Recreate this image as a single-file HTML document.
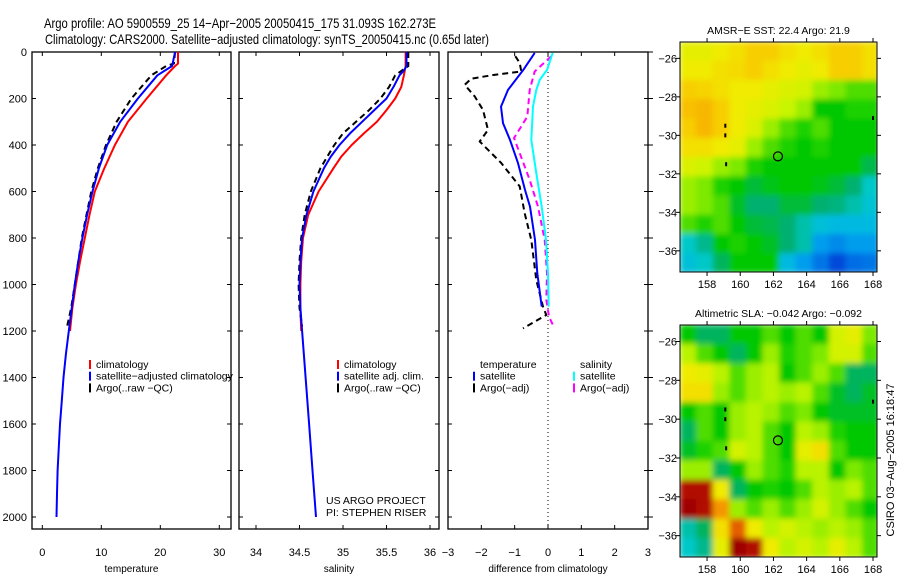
<!DOCTYPE html>
<html><head><meta charset="utf-8"><style>
html,body{margin:0;padding:0;background:#fff;width:900px;height:580px;overflow:hidden}
svg{display:block;font-family:"Liberation Sans",sans-serif}
</style></head><body>
<svg id="fig" width="900" height="580" viewBox="0 0 900 580">
<defs>
<filter id="soft" x="0" y="0" width="1" height="1"><feGaussianBlur stdDeviation="3" edgeMode="duplicate"/></filter>
<clipPath id="clipMap1"><rect x="680" y="42" width="197" height="230"/></clipPath>
<clipPath id="clipMap2"><rect x="680" y="325" width="197" height="232"/></clipPath>
</defs>
<text x="44" y="28" font-size="14" textLength="392" lengthAdjust="spacingAndGlyphs">Argo profile: AO 5900559_25 14−Apr−2005 20050415_175 31.093S 162.273E</text>
<text x="45" y="44" font-size="14" textLength="444" lengthAdjust="spacingAndGlyphs">Climatology: CARS2000. Satellite−adjusted climatology: synTS_20050415.nc (0.65d later)</text>
<g id="plots"></g>
</svg>
<script>
// ---------- data ----------
const tempDepths = [0,50,60,100,200,300,400,500,600,700,800,900,1000,1100,1200];
const tempClim = [23,23,22.5,21,17.7,14.5,12.3,10.5,8.9,8,7.2,6.4,5.7,5.1,4.7];
const satDepths = [0,60,100,200,300,400,500,600,700,800,900,1000,1100,1200,1300,1400,1500,1600,1700,1800,1900,2000];
const tempSat = [22.5,22,19.5,16.2,13.2,11,9.6,8.5,7.6,6.8,6.1,5.5,5,4.5,4,3.6,3.3,3.0,2.8,2.6,2.5,2.4];
const argoDepths = [0,50,60,100,200,300,400,500,600,700,800,900,1000,1100,1180];
const tempArgo = [22.5,22.3,21,18.5,15.1,12.6,10.8,9.4,8.3,7.5,6.7,6.1,5.5,4.9,4.2];

const salClimDepths = [0,60,100,150,200,250,300,350,400,450,500,600,700,800,900,1000,1100,1200];
const salClim = [35.72,35.72,35.70,35.67,35.6,35.5,35.39,35.24,35.10,34.98,34.89,34.72,34.6,34.54,34.52,34.51,34.51,34.52];
const salSatDepths = [0,60,80,100,150,200,250,300,350,400,450,500,600,700,800,900,1000,1100,1200,1400,1600,1800,2000];
const salSat = [35.73,35.73,35.7,35.65,35.58,35.5,35.36,35.22,35.08,34.96,34.86,34.78,34.66,34.58,34.53,34.51,34.5,34.51,34.53,34.57,34.61,34.65,34.69];
const salArgoDepths = [0,60,100,150,200,250,300,350,400,450,500,600,700,800,900,1000,1100,1180];
const salArgo = [35.75,35.75,35.6,35.53,35.43,35.3,35.15,35.0,34.9,34.82,34.74,34.63,34.56,34.52,34.5,34.49,34.5,34.53];

const dTempSatDepths = [4,77,163,235,306,378,478,593,665,808,952,1095];
const dTempSat = [-0.4,-0.74,-1.2,-1.41,-1.35,-1.14,-0.9,-0.69,-0.54,-0.39,-0.32,-0.19];
const dTempArgoDepths = [18,47,84,100,115,141,191,249,335,385,478,578,694,808,981,1095,1131,1189];
const dTempArgo = [-0.98,-0.85,-0.8,-1.7,-2.3,-2.5,-2.2,-1.95,-1.8,-2.05,-1.4,-0.85,-0.7,-0.5,-0.35,-0.15,-0.05,-0.75];
const dSalSatDepths = [4,77,120,163,235,378,521,665,808,952,1095];
const dSalSat = [0.14,-0.03,-0.25,-0.35,-0.45,-0.5,-0.35,-0.19,-0.06,0,0.02];
const dSalArgoDepths = [18,84,163,278,320,370,435,550,665,808,952,1066,1138,1175];
const dSalArgo = [0.1,-0.4,-0.55,-0.62,-0.8,-1.02,-0.85,-0.55,-0.3,-0.1,-0.03,-0.05,0.03,0.15];

const depthTicks = [0,200,400,600,800,1000,1200,1400,1600,1800,2000];
const tempTicks = [0,10,20,30];
const salTicks = [34,34.5,35,35.5,36];
const diffTicks = [-3,-2,-1,0,1,2,3];
const lonTicks = [158,160,162,164,166,168];
const latTicks = [-26,-28,-30,-32,-34,-36];

// map grids: 12 rows (north->south, 1 deg each from -25.15) x 12 cols (1 deg each from 156.37); colour index 0..1
const sstGrid = [
[0.68,0.68,0.70,0.72,0.75,0.75,0.72,0.70,0.72,0.75,0.75,0.72],
[0.70,0.70,0.72,0.73,0.75,0.72,0.70,0.68,0.70,0.75,0.75,0.72],
[0.75,0.74,0.72,0.70,0.70,0.68,0.66,0.65,0.60,0.58,0.55,0.55],
[0.77,0.78,0.75,0.70,0.68,0.66,0.63,0.60,0.50,0.50,0.52,0.52],
[0.75,0.78,0.75,0.70,0.66,0.60,0.55,0.52,0.55,0.50,0.50,0.50],
[0.72,0.72,0.70,0.68,0.60,0.55,0.52,0.50,0.52,0.50,0.50,0.50],
[0.66,0.64,0.60,0.58,0.52,0.50,0.50,0.50,0.50,0.50,0.50,0.46],
[0.60,0.58,0.52,0.50,0.47,0.49,0.50,0.50,0.49,0.47,0.44,0.38],
[0.60,0.58,0.55,0.48,0.44,0.44,0.47,0.47,0.44,0.43,0.40,0.36],
[0.55,0.52,0.55,0.50,0.47,0.46,0.44,0.40,0.35,0.33,0.33,0.33],
[0.38,0.42,0.50,0.52,0.50,0.48,0.44,0.40,0.28,0.26,0.28,0.28],
[0.35,0.38,0.45,0.50,0.50,0.50,0.33,0.28,0.24,0.18,0.23,0.24]];
const slaGrid = [
[0.50,0.45,0.45,0.50,0.50,0.55,0.50,0.55,0.50,0.65,0.68,0.58],
[0.62,0.55,0.50,0.45,0.50,0.60,0.52,0.55,0.58,0.65,0.65,0.55],
[0.70,0.68,0.62,0.55,0.60,0.62,0.50,0.55,0.60,0.55,0.45,0.45],
[0.72,0.72,0.60,0.55,0.60,0.62,0.60,0.62,0.55,0.48,0.45,0.48],
[0.50,0.55,0.50,0.60,0.62,0.60,0.55,0.58,0.50,0.48,0.48,0.48],
[0.45,0.55,0.50,0.60,0.62,0.55,0.50,0.62,0.60,0.52,0.50,0.50],
[0.48,0.52,0.55,0.65,0.62,0.55,0.50,0.68,0.72,0.55,0.50,0.50],
[0.60,0.60,0.45,0.50,0.60,0.55,0.52,0.62,0.62,0.50,0.58,0.55],
[0.92,0.92,0.70,0.45,0.50,0.52,0.50,0.55,0.62,0.60,0.62,0.55],
[0.95,0.92,0.82,0.60,0.55,0.60,0.55,0.60,0.65,0.60,0.55,0.50],
[0.40,0.45,0.72,0.85,0.70,0.62,0.65,0.62,0.60,0.62,0.60,0.55],
[0.38,0.42,0.68,0.95,0.92,0.70,0.62,0.65,0.62,0.68,0.62,0.55]];
const floatLon = 162.273, floatLat = -31.093;
const coastLon = [159.1,159.1,159.15,168.0];
const coastLat = [-29.5,-30.0,-31.5,-29.1];

// ---------- helpers ----------
const NS = 'http://www.w3.org/2000/svg';
const root = document.getElementById('plots');
function mk(tag, attrs, parent){const e=document.createElementNS(NS,tag);for(const k in attrs)e.setAttribute(k,attrs[k]);(parent||root).appendChild(e);return e;}
const Y0=52, Y1=529, depthScale=(517-52)/2000;
const yDepth = d => Y0 + d*depthScale;
const panels = [
 {x0:32,x1:231,fx:v=>42.3+v*5.9,ticks:tempTicks,label:'temperature',name:'temperature'},
 {x0:239,x1:439,fx:v=>256+(v-34)*87,ticks:salTicks,label:'salinity',name:'salinity'},
 {x0:448,x1:648,fx:v=>548+v*33.333,ticks:diffTicks,label:'difference from climatology',name:'difference'}
];
function fmt(v){return v<0?'−'+(-v):String(v);}
panels.forEach((p,i)=>{
  const g=mk('g',{});
  
  
  const r=mk('rect',{x:p.x0,y:Y0,width:p.x1-p.x0,height:Y1-Y0,fill:'none',stroke:'#000','stroke-width':1.3},g);
  
  
  depthTicks.forEach(d=>{
    const y=yDepth(d);
    mk('line',{x1:p.x0,x2:p.x0+4,y1:y,y2:y,stroke:'#000'},g);
    mk('line',{x1:p.x1-4,x2:p.x1,y1:y,y2:y,stroke:'#000'},g);
    if(i===0){const t=mk('text',{x:27,y:y+4,'font-size':11,'text-anchor':'end'},g);t.textContent=d;
      
      }
  });
  if(i===2){depthTicks.forEach(d=>{const y=yDepth(d);mk('line',{x1:p.x1,x2:p.x1+5,y1:y,y2:y,stroke:'#000'},g);});}
  p.ticks.forEach(v=>{
    const x=p.fx(v);
    mk('line',{x1:x,x2:x,y1:Y0,y2:Y0+4,stroke:'#000'},g);
    mk('line',{x1:x,x2:x,y1:Y1-4,y2:Y1,stroke:'#000'},g);
    const t=mk('text',{x:x,y:556,'font-size':11,'text-anchor':'middle'},g);t.textContent=fmt(v);
    
    
  });
  const xl=mk('text',{x:(p.x0+p.x1)/2,y:572,'font-size':10,'text-anchor':'middle'},g);xl.textContent=p.label;
  
  
});
// zero line
const zl=mk('line',{x1:548,x2:548,y1:Y0,y2:Y1,stroke:'#000','stroke-dasharray':'1,3'});



function series(p, depths, vals, color, dash, name){
  const pts=depths.map((d,k)=>p.fx(vals[k]).toFixed(1)+','+yDepth(d).toFixed(1)).join(' ');
  const a={points:pts,fill:'none',stroke:color,'stroke-width':2,'stroke-linejoin':'round'};
  if(dash)a['stroke-dasharray']=dash;
  const e=mk('polyline',a);
  
  
}
series(panels[0],tempDepths,tempClim,'#ff0000',null,'temperature-climatology-line');
series(panels[0],argoDepths,tempArgo,'#000',  '6,4','temperature-argo-line');
series(panels[0],satDepths,tempSat,'#0000ff',null,'temperature-satellite-line');
series(panels[1],salClimDepths,salClim,'#ff0000',null,'salinity-climatology-line');
series(panels[1],salArgoDepths,salArgo,'#000','6,4','salinity-argo-line');
series(panels[1],salSatDepths,salSat,'#0000ff',null,'salinity-satellite-line');
series(panels[2],dTempArgoDepths,dTempArgo,'#000','6,4','diff-temperature-argo-line');
series(panels[2],dSalArgoDepths,dSalArgo,'#ff00ff','6,4','diff-salinity-argo-line');
series(panels[2],dSalSatDepths,dSalSat,'#00ffff',null,'diff-salinity-satellite-line');
series(panels[2],dTempSatDepths,dTempSat,'#0000ff',null,'diff-temperature-satellite-line');

function legend(x,y,items,name){
  const g=mk('g',{});
  
  
  items.forEach((it,k)=>{
    const yy=y+k*11.7;
    if(it[1])mk('line',{x1:x,x2:x,y1:yy-5,y2:yy+4,stroke:it[1],'stroke-width':2},g);
    const t=mk('text',{x:x+6,y:yy+3,'font-size':10.5},g);t.textContent=it[0];
    
    
  });
}
legend(90,365,[['climatology','#f00'],['satellite−adjusted climatology','#00f'],['Argo(..raw −QC)','#000']],'temperature-legend');
legend(338,365,[['climatology','#f00'],['satellite adj. clim.','#00f'],['Argo(..raw −QC)','#000']],'salinity-legend');
legend(474,365,[['temperature',null],['satellite','#00f'],['Argo(−adj)','#000']],'diff-temperature-legend');
legend(574,365,[['salinity',null],['satellite','#0ff'],['Argo(−adj)','#f0f']],'diff-salinity-legend');
const cr=mk('text',{x:326,y:504,'font-size':10.5});cr.textContent='US ARGO PROJECT';


const cr2=mk('text',{x:326,y:516,'font-size':10.5});cr2.textContent='PI: STEPHEN RISER';



// ---------- maps ----------
const stops=[[0,[0,16,150]],[0.2,[0,80,224]],[0.3,[0,176,240]],[0.38,[0,200,200]],[0.44,[0,176,112]],[0.5,[0,200,0]],[0.57,[110,230,0]],[0.63,[200,245,0]],[0.7,[240,235,0]],[0.76,[248,200,0]],[0.82,[245,150,0]],[0.88,[210,40,0]],[0.94,[160,0,0]],[1,[150,0,0]]];
function cmap(v){for(let i=1;i<stops.length;i++){if(v<=stops[i][0]){const a=stops[i-1],b=stops[i],t=(v-a[0])/(b[0]-a[0]);return 'rgb('+a[1].map((c,j)=>Math.round(c+(b[1][j]-c)*t)).join(',')+')';}}return 'rgb(150,0,0)';}
const lonMin=156.37,lonMax=168.24,latTop=-25.15,latBot=-37.1;
function drawMap(y0,grid,title,name,clip){
  const x0=680,x1=877,y1=y0+230+(y0>300?2:0);
  const fx=lon=>x0+(lon-lonMin)/(lonMax-lonMin)*(x1-x0);
  const fy=lat=>y0+(latTop-lat)/(latTop-latBot)*(y1-y0);
  const g=mk('g',{});
  
  
  const cg=mk('g',{'clip-path':'url(#'+clip+')'},g);
  const hg=mk('g',{filter:'url(#soft)'},cg);
  grid.forEach((row,r)=>row.forEach((v,c)=>{
    const la=latTop-r, lo=lonMin+c;
    const e=mk('rect',{x:fx(lo)-0.5,y:fy(la)-0.5,width:fx(lo+1)-fx(lo)+1,height:fy(la-1)-fy(la)+1,fill:cmap(v)},hg);
    
    
  }));
  coastLon.forEach((lo,k)=>{const d=mk('rect',{x:fx(lo)-1,y:fy(coastLat[k])-2,width:2,height:4,fill:'#000'},g);
    
    });
  const fc=mk('circle',{cx:fx(floatLon),cy:fy(floatLat),r:4.5,fill:'none',stroke:'#000','stroke-width':1.2},g);
  
  
  mk('rect',{x:x0,y:y0,width:x1-x0,height:y1-y0,fill:'none',stroke:'#000','stroke-width':1},g);
  lonTicks.forEach(lo=>{const x=fx(lo);
    mk('line',{x1:x,x2:x,y1:y0-4,y2:y0,stroke:'#000'},g);mk('line',{x1:x,x2:x,y1:y1,y2:y1+4,stroke:'#000'},g);
    const t=mk('text',{x:x,y:y1+16,'font-size':11,'text-anchor':'middle'},g);t.textContent=lo;
    
    });
  latTicks.forEach(la=>{const y=fy(la);
    mk('line',{x1:x0-4,x2:x0,y1:y,y2:y,stroke:'#000'},g);mk('line',{x1:x1,x2:x1+4,y1:y,y2:y,stroke:'#000'},g);
    const t=mk('text',{x:x0-3,y:y+4,'font-size':11,'text-anchor':'end'},g);t.textContent=fmt(la);
    
    });
  const tt=mk('text',{x:(x0+x1)/2,y:y0-8,'font-size':10.5,'text-anchor':'middle'},g);tt.textContent=title;
  
  
}
drawMap(42,sstGrid,'AMSR−E SST: 22.4 Argo: 21.9','sst-map','clipMap1');
drawMap(325,slaGrid,'Altimetric SLA: −0.042 Argo: −0.092','sla-map','clipMap2');
const cs=mk('text',{x:894,y:460,'font-size':11,'text-anchor':'middle',transform:'rotate(-90 894 460)'});
cs.textContent='CSIRO 03−Aug−2005 16:18:47';


</script>
</body></html>
